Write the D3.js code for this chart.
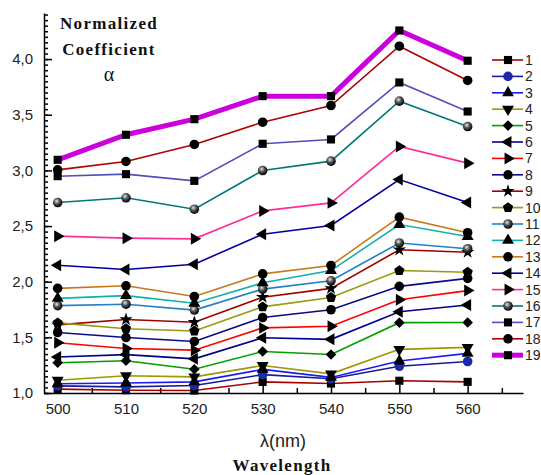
<!DOCTYPE html>
<html>
<head>
<meta charset="utf-8">
<script src="https://cdn.jsdelivr.net/npm/d3@7"></script>
<style>
    body { margin: 0; background: #fff; }
    svg { display: block; }
</style>
</head>
<body>
<script>
'use strict';

// wavelengths (nm) and normalized coefficient per curve
const wavelengths = [500, 510, 520, 530, 540, 550, 560];
const curveNames = ["1","2","3","4","5","6","7","8","9","10","11","12","13","14","15","16","17","18","19"];
const alpha1  = [1.035, 1.025, 1.022, 1.100, 1.085, 1.110, 1.100];
const alpha2  = [1.064, 1.055, 1.067, 1.165, 1.128, 1.240, 1.283];
const alpha3  = [1.083, 1.090, 1.100, 1.212, 1.140, 1.288, 1.356];
const alpha4  = [1.115, 1.155, 1.145, 1.247, 1.172, 1.392, 1.410];
const alpha5  = [1.272, 1.290, 1.214, 1.373, 1.346, 1.632, 1.633];
const alpha6  = [1.324, 1.345, 1.307, 1.496, 1.482, 1.730, 1.790];
const alpha7  = [1.452, 1.400, 1.385, 1.585, 1.600, 1.838, 1.920];
const alpha8  = [1.543, 1.498, 1.463, 1.678, 1.748, 1.958, 2.030];
const alpha9  = [1.612, 1.660, 1.636, 1.861, 1.940, 2.287, 2.265];
const alpha10 = [1.630, 1.577, 1.557, 1.774, 1.858, 2.100, 2.085];
const alpha11 = [1.785, 1.798, 1.745, 1.933, 2.008, 2.348, 2.296];
const alpha12 = [1.850, 1.875, 1.807, 1.990, 2.100, 2.514, 2.406];
const alpha13 = [1.940, 1.963, 1.867, 2.070, 2.146, 2.580, 2.440];
const alpha14 = [2.148, 2.110, 2.157, 2.427, 2.505, 2.918, 2.711];
const alpha15 = [2.409, 2.391, 2.385, 2.636, 2.708, 3.215, 3.065];
const alpha16 = [2.711, 2.754, 2.651, 2.999, 3.083, 3.622, 3.394];
const alpha17 = [2.948, 2.966, 2.906, 3.239, 3.278, 3.790, 3.529];
const alpha18 = [3.005, 3.080, 3.233, 3.433, 3.583, 4.116, 3.808];
const alpha19 = [3.095, 3.320, 3.460, 3.667, 3.667, 4.257, 3.985];
const yTickLabels = [1.0, 1.5, 2.0, 2.5, 3.0, 3.5, 4.0];
const xTickLabels = [500, 510, 520, 530, 540, 550, 560];

(function () {
    const allAlpha = [alpha1, alpha2, alpha3, alpha4, alpha5, alpha6, alpha7, alpha8, alpha9, alpha10,
        alpha11, alpha12, alpha13, alpha14, alpha15, alpha16, alpha17, alpha18, alpha19];

    // look of each curve: line colour, marker shape
    const styles = [
        { color: "#a80000", shape: "square" },
        { color: "#1a1a9a", shape: "circle", fill: "#1a2aa8" },
        { color: "#1a1aff", shape: "up" },
        { color: "#9a9a00", shape: "down" },
        { color: "#00a000", shape: "diamond" },
        { color: "#00008b", shape: "left" },
        { color: "#ff0000", shape: "right" },
        { color: "#0a0a8a", shape: "circle" },
        { color: "#a00000", shape: "star" },
        { color: "#9a9a10", shape: "pentagon" },
        { color: "#2080c8", shape: "sphere" },
        { color: "#10b0b0", shape: "up" },
        { color: "#c87a1a", shape: "circle" },
        { color: "#0000a0", shape: "left" },
        { color: "#ff2c9a", shape: "right" },
        { color: "#007878", shape: "sphere" },
        { color: "#5050b8", shape: "square" },
        { color: "#b00000", shape: "circle" },
        { color: "#cc00dd", shape: "square", width: 5 }
    ];

    const series = curveNames.map((name, i) => ({
        name: name,
        style: styles[i],
        points: wavelengths.map((w, j) => ({ x: w, y: allAlpha[i][j] }))
    }));

    const W = 541, H = 475;
    const svg = d3.select("body").append("svg")
        .attr("width", W)
        .attr("height", H)
        .style("font-family", "Arial, 'Liberation Sans', sans-serif");

    const defs = svg.append("defs");
    const grad = defs.append("radialGradient")
        .attr("id", "sphere")
        .attr("cx", "40%").attr("cy", "35%").attr("r", "65%");
    grad.append("stop").attr("offset", "0%").attr("stop-color", "#e8e8e8");
    grad.append("stop").attr("offset", "45%").attr("stop-color", "#555");
    grad.append("stop").attr("offset", "100%").attr("stop-color", "#000");

    // scales
    const x = d3.scaleLinear().domain([498, 568.1]).range([44, 523]);
    const y = d3.scaleLinear().domain([1.0, 4.414]).range([393, 13]);

    // pentagon symbol
    const symbolPentagon = {
        draw(ctx, size) {
            const r = Math.sqrt(size / 2.378);
            for (let i = 0; i < 5; i++) {
                const a = -Math.PI / 2 + i * 2 * Math.PI / 5;
                if (i === 0) ctx.moveTo(r * Math.cos(a), r * Math.sin(a));
                else ctx.lineTo(r * Math.cos(a), r * Math.sin(a));
            }
            ctx.closePath();
        }
    };

    function markerPath(shape) {
        switch (shape) {
            case "square": return d3.symbol(d3.symbolSquare, 66)();
            case "circle": return d3.symbol(d3.symbolCircle, 72)();
            case "sphere": return d3.symbol(d3.symbolCircle, 72)();
            case "diamond": return d3.symbol(d3.symbolSquare, 56)();
            case "star": return d3.symbol(d3.symbolStar, 55)();
            case "pentagon": return d3.symbol(symbolPentagon, 70)();
            default: return d3.symbol(d3.symbolTriangle, 62)();
        }
    }
    function markerRotate(shape) {
        if (shape === "down") return 180;
        if (shape === "left") return -90;
        if (shape === "right") return 90;
        if (shape === "diamond") return 45;
        return 0;
    }
    function markerFill(st) {
        if (st.shape === "sphere") return "url(#sphere)";
        return st.fill || "#000";
    }

    // axes: minor ticks then major ticks, all pointing inward
    const yMinor = d3.range(0, 69).map(i => 1 + i * 0.05);
    svg.append("g")
        .attr("transform", "translate(44,0)")
        .call(d3.axisLeft(y).tickValues(yMinor).tickSizeInner(-4).tickSizeOuter(0).tickFormat(""))
        .call(g => g.select(".domain").remove());
    svg.append("g")
        .attr("transform", "translate(44,0)")
        .call(d3.axisLeft(y).tickValues(yTickLabels).tickSizeInner(-8).tickSizeOuter(0).tickPadding(11)
            .tickFormat(d => d3.format(".1f")(d).replace(".", ",")))
        .call(g => g.selectAll("text").attr("font-size", 15).attr("fill", "#222"));

    const xMinor = [505, 515, 525, 535, 545, 555, 565];
    svg.append("g")
        .attr("transform", "translate(0,393)")
        .call(d3.axisBottom(x).tickValues(xMinor).tickSizeInner(-5).tickSizeOuter(0).tickFormat(""))
        .call(g => g.select(".domain").remove());
    svg.append("g")
        .attr("transform", "translate(0,393)")
        .call(d3.axisBottom(x).tickValues(xTickLabels).tickSizeInner(-8).tickSizeOuter(0).tickPadding(10)
            .tickFormat(d3.format("d")))
        .call(g => g.selectAll("text").attr("font-size", 15).attr("fill", "#222"));
    svg.selectAll(".domain, .tick line").attr("stroke", "#000").attr("stroke-width", 1.5);

    // curves
    const line = d3.line().x(d => x(d.x)).y(d => y(d.y));
    svg.append("g").selectAll("path")
        .data(series)
        .enter()
        .append("path")
        .attr("d", d => line(d.points))
        .attr("fill", "none")
        .attr("stroke", d => d.style.color)
        .attr("stroke-width", d => d.style.width || 1.6);

    // markers
    const marks = svg.append("g").selectAll("g")
        .data(series)
        .enter()
        .append("g");
    marks.selectAll("path")
        .data(d => d.points.map(p => ({ p: p, st: d.style })))
        .enter()
        .append("path")
        .attr("d", d => markerPath(d.st.shape))
        .attr("transform", d => "translate(" + x(d.p.x) + "," + y(d.p.y) + ") rotate(" + markerRotate(d.st.shape) + ")")
        .attr("fill", d => markerFill(d.st));

    // legend
    const legend = svg.append("g").selectAll("g")
        .data(series)
        .enter()
        .append("g")
        .attr("transform", (d, i) => "translate(0," + (60 + i * 16.4) + ")");
    legend.append("line")
        .attr("x1", 492).attr("x2", 523)
        .attr("stroke", d => d.style.color)
        .attr("stroke-width", d => d.style.width || 1.6);
    legend.append("path")
        .attr("d", d => markerPath(d.style.shape))
        .attr("transform", d => "translate(508,0) rotate(" + markerRotate(d.style.shape) + ")")
        .attr("fill", d => markerFill(d.style));
    legend.append("text")
        .attr("x", 525)
        .attr("dy", "0.36em")
        .attr("font-size", 14)
        .attr("fill", "#222")
        .text(d => d.name);

    // titles
    const serif = "'Times New Roman', 'Liberation Serif', serif";
    const titleLines = ["Normalized", "Coefficient", "\u03b1"];
    svg.append("g").selectAll("text")
        .data(titleLines)
        .enter()
        .append("text")
        .attr("x", 109)
        .attr("y", (d, i) => 29 + i * 26)
        .attr("text-anchor", "middle")
        .attr("font-family", serif)
        .attr("font-weight", d => d === "\u03b1" ? "normal" : "bold")
        .attr("font-size", d => d === "\u03b1" ? 20 : 17)
        .attr("letter-spacing", d => d === "\u03b1" ? 0 : 1.3)
        .attr("fill", "#111")
        .text(d => d);

    svg.append("text")
        .attr("x", 283)
        .attr("y", 447)
        .attr("text-anchor", "middle")
        .attr("font-size", 18)
        .attr("fill", "#222")
        .text("\u03bb(nm)");
    svg.append("text")
        .attr("x", 282)
        .attr("y", 471)
        .attr("text-anchor", "middle")
        .attr("font-family", serif)
        .attr("font-weight", "bold")
        .attr("font-size", 17)
        .attr("letter-spacing", 1.3)
        .attr("fill", "#111")
        .text("Wavelength");
})();
</script>
</body>
</html>
